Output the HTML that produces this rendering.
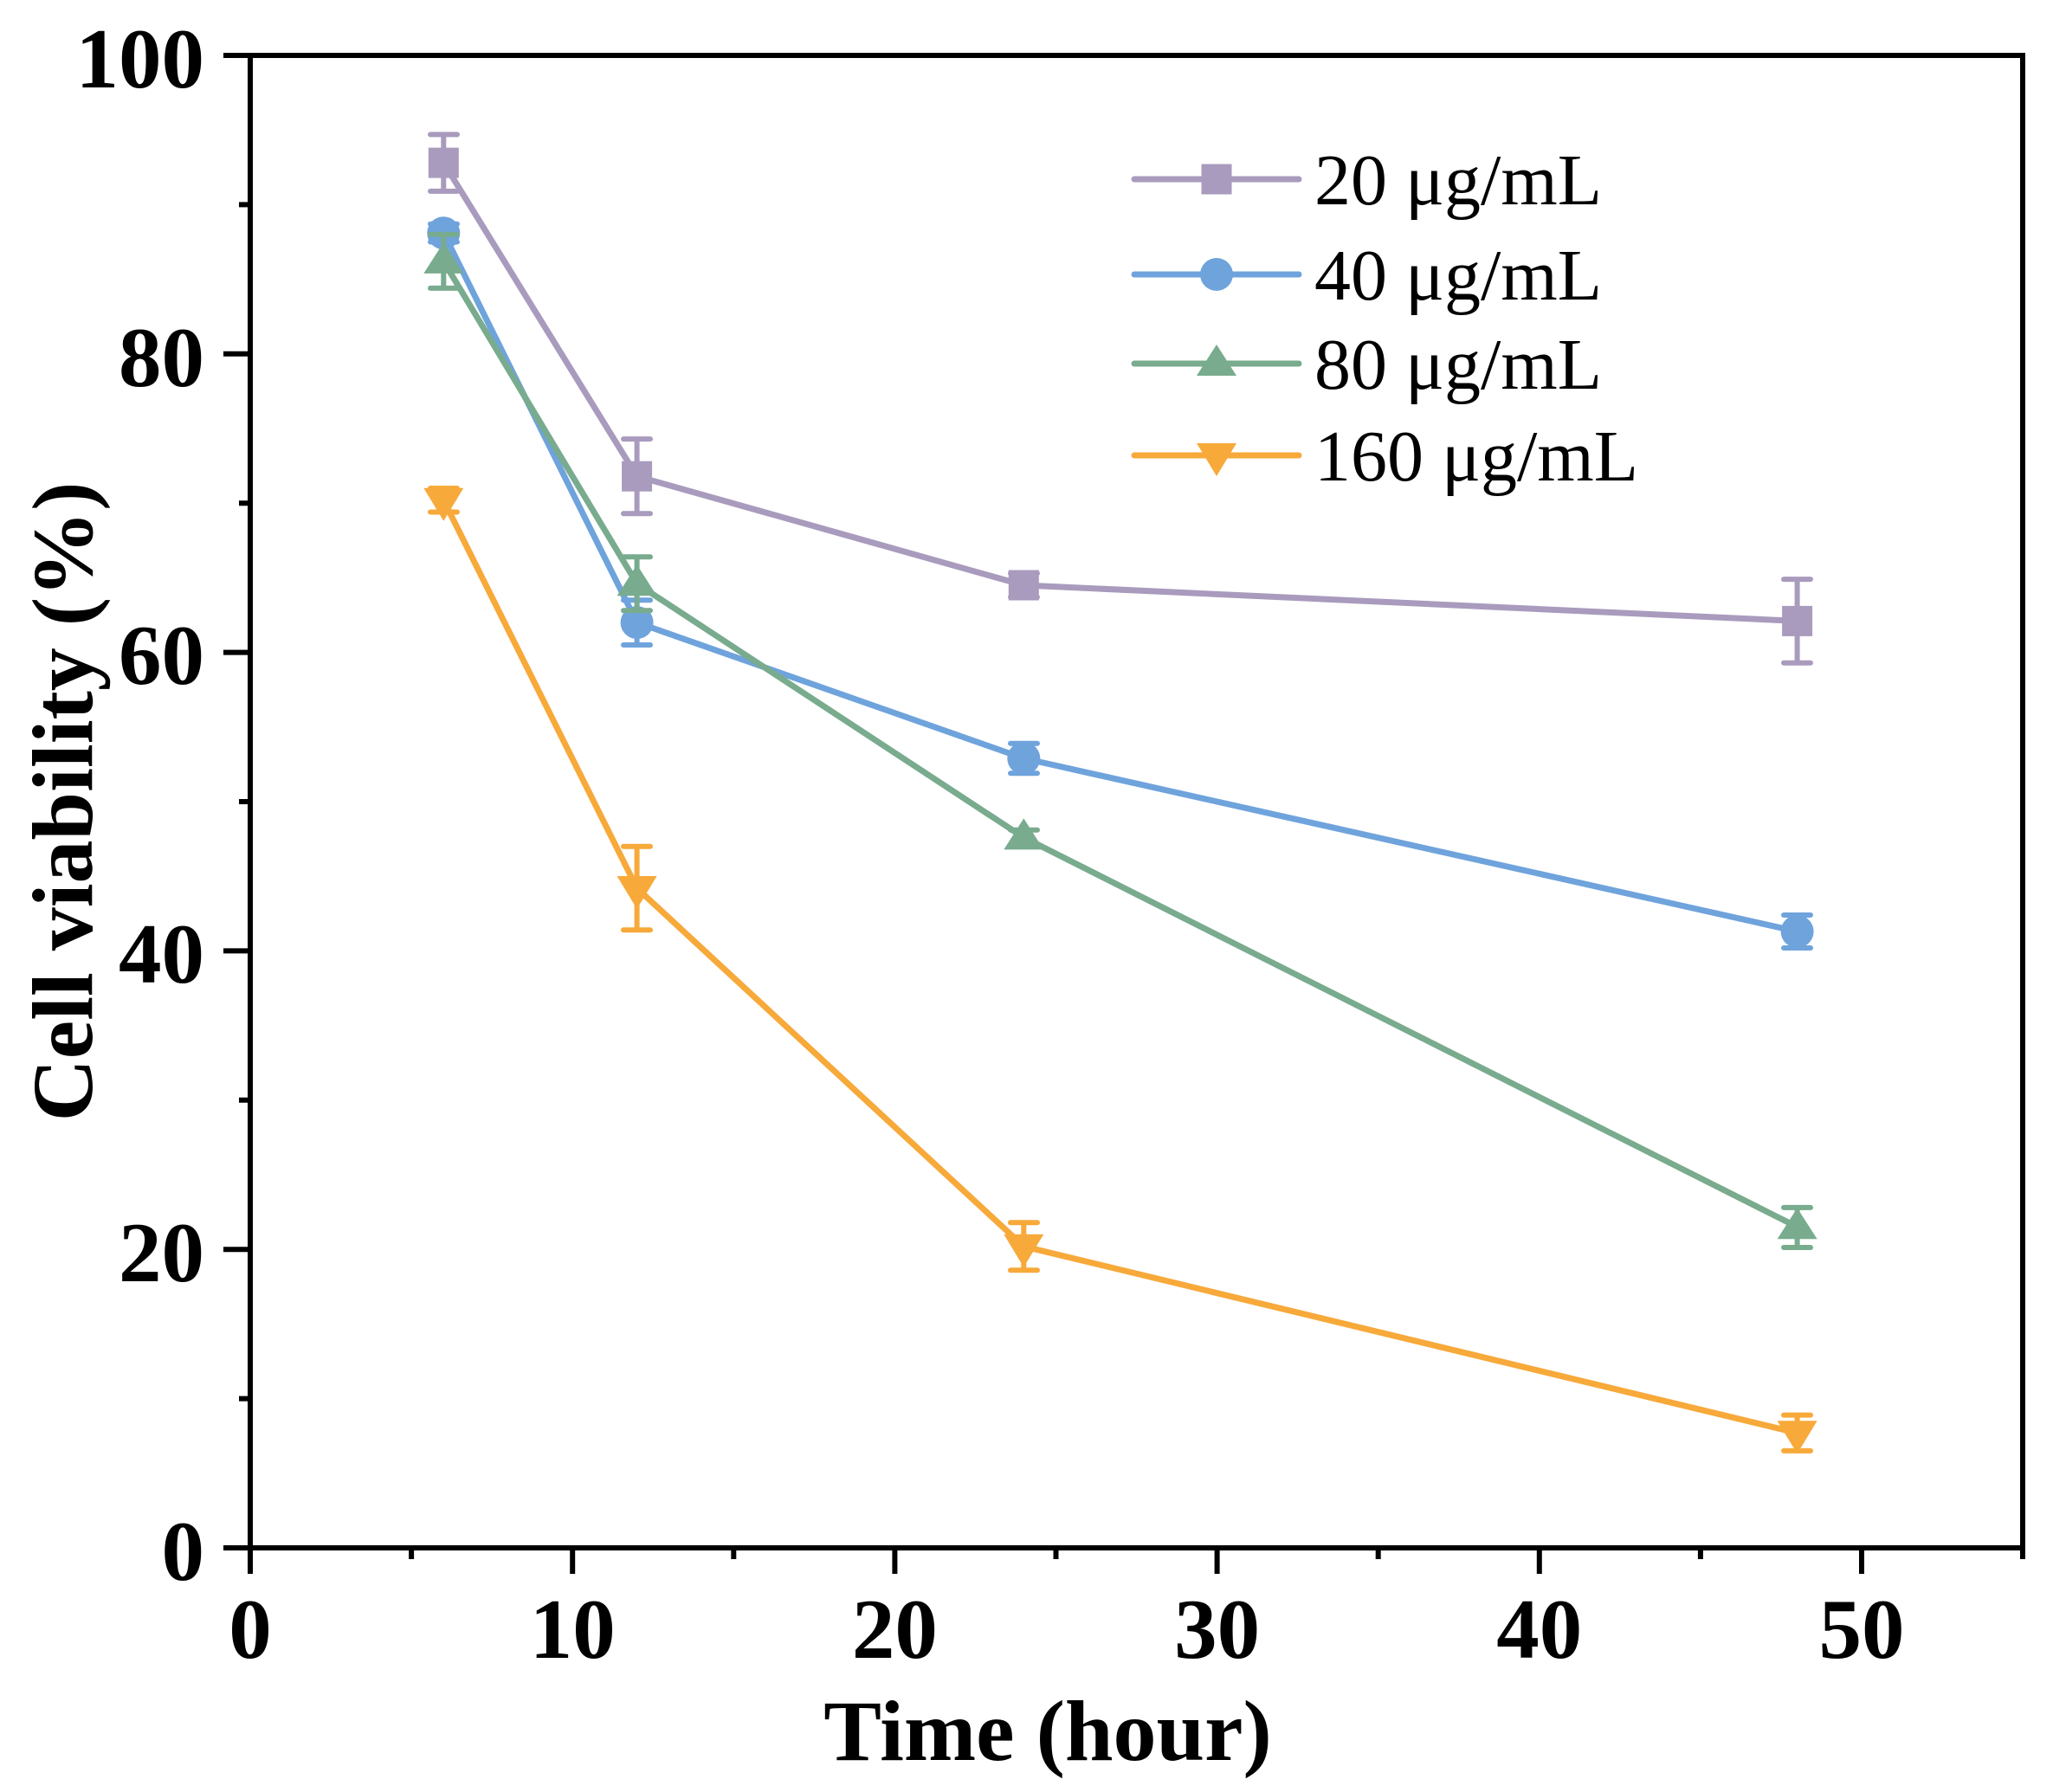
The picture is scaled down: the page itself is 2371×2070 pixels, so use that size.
<!DOCTYPE html>
<html><head><meta charset="utf-8"><style>body{margin:0;background:#fff}svg{display:block}</style></head>
<body>
<svg width="2371" height="2070" viewBox="0 0 2371 2070" xmlns="http://www.w3.org/2000/svg" font-family="Liberation Serif, serif">
<rect width="2371" height="2070" fill="#fff"/>
<defs>
<rect id="sq" x="-17.5" y="-17.5" width="35" height="35"/>
<circle id="ci" r="19"/>
<polygon id="tu" points="0,-22 -23,14 23,14"/>
<polygon id="td" points="0,24 -23,-14 23,-14"/>
</defs>

<g stroke="#a99bbd" fill="#a99bbd">
<polyline fill="none" stroke-width="7" stroke-linejoin="round" points="512.3,188.1 735.6,550.2 1182.3,676.0 2075.6,717.4"/>
<g stroke-width="6" stroke-linecap="round">
<path d="M512.3,155.4V220.9M497,155.4H528M497,220.9H528"/>
<path d="M735.6,507.1V593.3M720,507.1H751M720,593.3H751"/>
<path d="M1182.3,662.2V689.8M1167,662.2H1198M1167,689.8H1198"/>
<path d="M2075.6,669.1V765.7M2060,669.1H2091M2060,765.7H2091"/>
</g>
<g stroke="none">
<use href="#sq" x="512.3" y="188.1"/><use href="#sq" x="735.6" y="550.2"/><use href="#sq" x="1182.3" y="676.0"/><use href="#sq" x="2075.6" y="717.4"/>
</g></g>

<g stroke="#6fa3dc" fill="#6fa3dc">
<polyline fill="none" stroke-width="7" stroke-linejoin="round" points="512.3,269.2 735.6,719.1 1182.3,876.0 2075.6,1076.0"/>
<g stroke-width="6" stroke-linecap="round">
<path d="M512.3,258.8V279.5M497,258.8H528M497,279.5H528"/>
<path d="M735.6,693.3V745.0M720,693.3H751M720,745.0H751"/>
<path d="M1182.3,858.8V893.2M1167,858.8H1198M1167,893.2H1198"/>
<path d="M2075.6,1057.0V1095.0M2060,1057.0H2091M2060,1095.0H2091"/>
</g>
<g stroke="none">
<use href="#ci" x="512.3" y="269.2"/><use href="#ci" x="735.6" y="719.1"/><use href="#ci" x="1182.3" y="876.0"/><use href="#ci" x="2075.6" y="1076.0"/>
</g></g>

<g stroke="#79ab8e" fill="#79ab8e">
<polyline fill="none" stroke-width="7" stroke-linejoin="round" points="512.3,301.9 735.6,674.3 1182.3,967.4 2075.6,1417.3"/>
<g stroke-width="6" stroke-linecap="round">
<path d="M512.3,270.9V332.9M497,270.9H528M497,332.9H528"/>
<path d="M735.6,643.3V705.3M720,643.3H751M720,705.3H751"/>
<path d="M1182.3,958.8V976.0M1167,958.8H1198M1167,976.0H1198"/>
<path d="M2075.6,1394.9V1441M2060,1394.9H2091M2060,1441H2091"/>
</g>
<g stroke="none">
<use href="#tu" x="512.3" y="301.9"/><use href="#tu" x="735.6" y="674.3"/><use href="#tu" x="1182.3" y="967.4"/><use href="#tu" x="2075.6" y="1417.3"/>
</g></g>

<g stroke="#f7a93a" fill="#f7a93a">
<polyline fill="none" stroke-width="7" stroke-linejoin="round" points="512.3,577.8 735.6,1026.0 1182.3,1439.8 2075.6,1655.3"/>
<g stroke-width="6" stroke-linecap="round">
<path d="M512.3,564.0V591.5M497,564.0H528M497,591.5H528"/>
<path d="M735.6,977.7V1074.3M720,977.7H751M720,1074.3H751"/>
<path d="M1182.3,1412.2V1467.3M1167,1412.2H1198M1167,1467.3H1198"/>
<path d="M2075.6,1634.6V1675.9M2060,1634.6H2091M2060,1675.9H2091"/>
</g>
<g stroke="none">
<use href="#td" x="512.3" y="577.8"/><use href="#td" x="735.6" y="1026.0"/><use href="#td" x="1182.3" y="1439.8"/><use href="#td" x="2075.6" y="1655.3"/>
</g></g>

<rect x="289" y="64" width="2047" height="1724" fill="none" stroke="#000" stroke-width="6"/>
<g stroke="#000" stroke-width="6">
<path d="M258,1788H289M276,1615.6H289M258,1443.2H289M276,1270.8H289M258,1098.4H289M276,926H289M258,753.6H289M276,581.2H289M258,408.8H289M276,236.4H289M258,64H289"/>
<path d="M289,1788V1818M475.1,1788V1801M661.2,1788V1818M847.3,1788V1801M1033.4,1788V1818M1219.5,1788V1801M1405.6,1788V1818M1591.7,1788V1801M1777.8,1788V1818M1963.9,1788V1801M2150,1788V1818M2336,1788V1801"/>
</g>
<g font-size="99" font-weight="bold" text-anchor="end">
<text x="236" y="1825">0</text><text x="236" y="1480">20</text><text x="236" y="1135">40</text><text x="236" y="790">60</text><text x="236" y="446">80</text><text x="236" y="101">100</text>
</g>
<g font-size="99" font-weight="bold" text-anchor="middle">
<text x="289" y="1915">0</text><text x="661.2" y="1915">10</text><text x="1033.4" y="1915">20</text><text x="1405.6" y="1915">30</text><text x="1777.8" y="1915">40</text><text x="2150" y="1915">50</text>
</g>
<text x="1210" y="2033" font-size="100" font-weight="bold" text-anchor="middle">Time (hour)</text>
<text transform="translate(106,926) rotate(-90)" font-size="100" font-weight="bold" text-anchor="middle">Cell viability (%)</text>

<g stroke-width="7" stroke-linecap="round">
<line x1="1310" y1="207" x2="1500" y2="207" stroke="#a99bbd"/>
<line x1="1310" y1="317" x2="1500" y2="317" stroke="#6fa3dc"/>
<line x1="1310" y1="420" x2="1500" y2="420" stroke="#79ab8e"/>
<line x1="1310" y1="526" x2="1500" y2="526" stroke="#f7a93a"/>
</g>
<use href="#sq" x="1405" y="207" fill="#a99bbd"/>
<use href="#ci" x="1405" y="317" fill="#6fa3dc"/>
<use href="#tu" x="1405" y="420" fill="#79ab8e"/>
<use href="#td" x="1405" y="526" fill="#f7a93a"/>
<g font-size="84">
<text x="1518" y="236">20 μg/mL</text>
<text x="1518" y="346">40 μg/mL</text>
<text x="1518" y="449">80 μg/mL</text>
<text x="1518" y="555">160 μg/mL</text>
</g>
</svg>
</body></html>
